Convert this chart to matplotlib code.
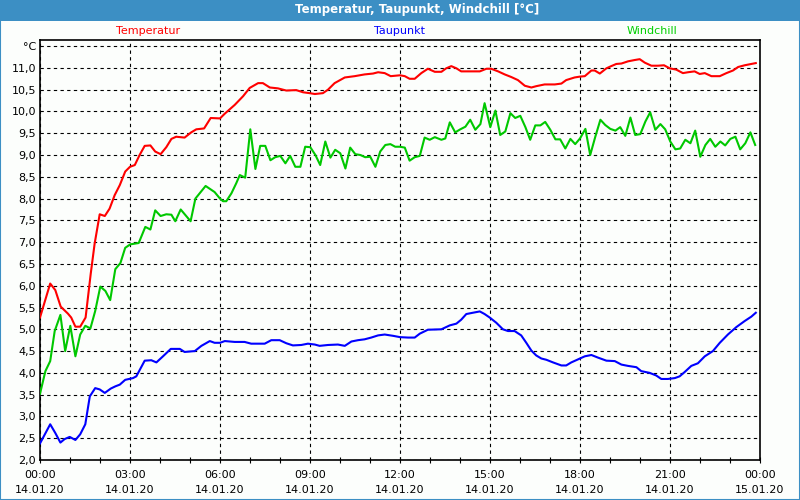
import matplotlib
matplotlib.use("Agg")
import matplotlib.pyplot as plt
from matplotlib.patches import Rectangle
from matplotlib.ticker import FixedLocator, MultipleLocator

# values, time in hours since 14.01.20 00:00
temp_h = [0, 0.34, 0.51, 0.69, 0.93, 1.04, 1.18, 1.34, 1.52, 1.69, 1.82, 1.99, 2.16, 2.32, 2.49,
          2.66, 2.84, 3.0, 3.16, 3.32, 3.49, 3.68, 3.84, 4.02, 4.21, 4.38, 4.54, 4.82, 5.04, 5.21,
          5.47, 5.69, 6.0, 6.16, 6.49, 6.77, 6.99, 7.27, 7.43, 7.66, 7.93, 8.21, 8.54, 8.77, 8.99,
          9.16, 9.43, 9.6, 9.82, 10.16, 10.49, 10.82, 11.1, 11.27, 11.49, 11.69, 12.0, 12.16, 12.32,
          12.49, 12.71, 12.93, 13.16, 13.38, 13.54, 13.71, 13.88, 14.04, 14.32, 14.66, 14.88, 15.04,
          15.27, 15.49, 15.71, 15.93, 16.16, 16.38, 16.54, 16.82, 17.16, 17.38, 17.54, 17.82, 18.0,
          18.16, 18.38, 18.49, 18.66, 18.88, 19.04, 19.21, 19.38, 19.6, 19.82, 19.99, 20.16, 20.38,
          20.6, 20.8, 20.99, 21.21, 21.43, 21.6, 21.82, 21.99, 22.16, 22.38, 22.66, 22.88, 23.1,
          23.27, 23.49, 23.71, 23.86]
temp = [5.27, 6.05, 5.9, 5.52, 5.36, 5.27, 5.06, 5.06, 5.27, 6.27, 6.96, 7.64, 7.6, 7.77, 8.08,
        8.31, 8.62, 8.73, 8.77, 9.0, 9.21, 9.22, 9.08, 9.02, 9.18, 9.37, 9.42, 9.4, 9.52, 9.59,
        9.61, 9.85, 9.84, 9.95, 10.15, 10.35, 10.54, 10.65, 10.65, 10.55, 10.53, 10.48, 10.49, 10.44, 10.42,
        10.4, 10.42, 10.5, 10.65, 10.78, 10.81, 10.85, 10.87, 10.9, 10.88, 10.81, 10.83, 10.81, 10.75,
        10.75, 10.88, 10.98, 10.91, 10.91, 10.99, 11.04, 10.99, 10.92, 10.92, 10.92, 10.98, 10.98,
        10.92, 10.85, 10.79, 10.72, 10.59, 10.55, 10.58, 10.62, 10.62, 10.64, 10.72, 10.78, 10.8,
        10.81, 10.94, 10.94, 10.87, 10.99, 11.04, 11.09, 11.1, 11.15, 11.18, 11.2, 11.12, 11.05,
        11.05, 11.06, 10.99, 10.96, 10.88, 10.9, 10.92, 10.86, 10.88, 10.81, 10.81, 10.88, 10.94,
        11.02, 11.06, 11.09, 11.11]

dew_h = [0, 0.34, 0.51, 0.68, 0.82, 0.99, 1.18, 1.34, 1.51, 1.66, 1.84, 1.99, 2.16, 2.36, 2.51,
         2.66, 2.84, 3.1, 3.21, 3.49, 3.71, 3.88, 4.1, 4.36, 4.66, 4.82, 5.16, 5.38, 5.66, 5.82,
         6.0, 6.16, 6.49, 6.82, 7.04, 7.49, 7.71, 7.99, 8.21, 8.43, 8.71, 8.93, 9.16, 9.32, 9.6,
         9.93, 10.16, 10.38, 10.6, 10.82, 11.04, 11.27, 11.49, 11.77, 12.0, 12.27, 12.49, 12.66,
         12.93, 13.38, 13.66, 13.88, 14.04, 14.21, 14.43, 14.66, 14.82, 14.99, 15.21, 15.43, 15.6,
         15.82, 16.04, 16.21, 16.38, 16.54, 16.71, 16.88, 17.1, 17.38, 17.54, 17.71, 18.0, 18.16,
         18.38, 18.6, 18.88, 19.16, 19.38, 19.6, 19.88, 20.04, 20.32, 20.54, 20.71, 20.93, 21.16,
         21.32, 21.49, 21.71, 21.93, 22.16, 22.43, 22.66, 22.93, 23.21, 23.49, 23.71, 23.86]
dew = [2.38, 2.82, 2.62, 2.4, 2.48, 2.53, 2.46, 2.59, 2.82, 3.46, 3.65, 3.62, 3.54, 3.64, 3.69,
       3.73, 3.84, 3.88, 3.92, 4.28, 4.29, 4.24, 4.38, 4.55, 4.55, 4.48, 4.5, 4.62, 4.73, 4.69,
       4.69, 4.73, 4.71, 4.71, 4.67, 4.67, 4.75, 4.75, 4.68, 4.63, 4.64, 4.67, 4.65, 4.62, 4.64,
       4.65, 4.62, 4.72, 4.75, 4.77, 4.81, 4.86, 4.88, 4.85, 4.82, 4.81, 4.81, 4.9,
       4.99, 5.0, 5.09, 5.13, 5.22, 5.35, 5.38, 5.41, 5.35, 5.27, 5.15, 5.0, 4.96,
       4.96, 4.86, 4.69, 4.51, 4.4, 4.33, 4.3, 4.24, 4.17, 4.17, 4.24, 4.33, 4.38,
       4.41, 4.35, 4.28, 4.27, 4.19, 4.16, 4.13, 4.04, 4.0, 3.94, 3.86, 3.86, 3.88,
       3.92, 4.02, 4.16, 4.22, 4.38, 4.5, 4.69, 4.88, 5.05, 5.19, 5.29, 5.38]

wind_h = [0, 0.18, 0.34, 0.49, 0.68, 0.84, 1.01, 1.18, 1.34, 1.51, 1.68, 1.84, 2.01, 2.18, 2.34,
          2.51, 2.68, 2.84, 3.01, 3.29, 3.51, 3.68, 3.84, 4.02, 4.21, 4.38, 4.51, 4.69, 5.02, 5.18,
          5.52, 5.82, 6.0, 6.1, 6.21, 6.38, 6.54, 6.66, 6.84, 7.01, 7.18, 7.34, 7.51, 7.68, 7.84,
          8.01, 8.18, 8.34, 8.51, 8.68, 8.84, 9.01, 9.18, 9.34, 9.51, 9.68, 9.84, 10.01, 10.18,
          10.34, 10.51, 10.68, 10.84, 11.01, 11.18, 11.34, 11.51, 11.68, 11.84, 12.0, 12.16, 12.32,
          12.49, 12.66, 12.82, 12.99, 13.16, 13.38, 13.51, 13.66, 13.84, 14.01, 14.18, 14.34, 14.51,
          14.68, 14.82, 15.01, 15.18, 15.34, 15.51, 15.68, 15.84, 16.01, 16.18, 16.34, 16.51, 16.68,
          16.84, 17.01, 17.18, 17.34, 17.51, 17.68, 17.84, 18.0, 18.18, 18.34, 18.51, 18.68, 18.84,
          19.01, 19.18, 19.34, 19.51, 19.68, 19.84, 20.01, 20.18, 20.34, 20.51, 20.68, 20.84, 21.01,
          21.18, 21.34, 21.51, 21.68, 21.84, 22.01, 22.18, 22.34, 22.51, 22.68, 22.84, 23.01, 23.18,
          23.34, 23.51, 23.68, 23.84]
wind = [3.52, 4.04, 4.27, 4.96, 5.33, 4.5, 5.08, 4.38, 4.88, 5.08, 5.02, 5.42, 5.98, 5.88, 5.67,
        6.38, 6.52, 6.87, 6.95, 6.98, 7.35, 7.29, 7.73, 7.6, 7.64, 7.63, 7.48, 7.75, 7.48, 8.0,
        8.29, 8.15, 8.0, 7.94, 7.94, 8.12, 8.35, 8.54, 8.48, 9.59, 8.68, 9.21, 9.21, 8.88, 8.95,
        8.98, 8.81, 8.98, 8.73, 8.73, 9.19, 9.18, 9.0, 8.77, 9.31, 8.94, 9.12, 9.04, 8.69,
        9.17, 9.02, 9.0, 8.95, 8.96, 8.73, 9.08, 9.23, 9.25, 9.19, 9.19, 9.17, 8.87,
        8.95, 8.98, 9.4, 9.35, 9.41, 9.35, 9.38, 9.75, 9.52, 9.59, 9.65, 9.81, 9.58,
        9.71, 10.19, 9.64, 10.02, 9.46, 9.54, 9.96, 9.85, 9.9, 9.64, 9.35, 9.68, 9.68,
        9.76, 9.58, 9.36, 9.36, 9.15, 9.37, 9.25, 9.38, 9.6, 9.0, 9.42, 9.81, 9.69,
        9.6, 9.56, 9.64, 9.44, 9.86, 9.46, 9.48, 9.77, 9.98, 9.58, 9.71, 9.59, 9.31,
        9.13, 9.15, 9.35, 9.27, 9.56, 8.96, 9.23, 9.37, 9.19, 9.31, 9.22, 9.37, 9.42,
        9.13, 9.27, 9.52, 9.23]

x_ticks = [0, 3, 6, 9, 12, 15, 18, 21, 24]
x_labels = ["00:00\n14.01.20", "03:00\n14.01.20", "06:00\n14.01.20", "09:00\n14.01.20",
            "12:00\n14.01.20", "15:00\n14.01.20", "18:00\n14.01.20", "21:00\n14.01.20",
            "00:00\n15.01.20"]
y_ticks = [2.0, 2.5, 3.0, 3.5, 4.0, 4.5, 5.0, 5.5, 6.0, 6.5, 7.0, 7.5, 8.0, 8.5, 9.0, 9.5,
           10.0, 10.5, 11.0, 11.5]
y_labels = ["2,0", "2,5", "3,0", "3,5", "4,0", "4,5", "5,0", "5,5", "6,0", "6,5", "7,0", "7,5",
            "8,0", "8,5", "9,0", "9,5", "10,0", "10,5", "11,0", "°C"]

bg = "#fcfefc"
bar = "#3c8fc4"
fig = plt.figure(figsize=(8, 5), dpi=100, facecolor=bg)

# window title bar and frame
fig.patches.append(Rectangle((0, 479 / 500), 1, 21 / 500, transform=fig.transFigure,
                             facecolor=bar, edgecolor="none", zorder=0))
fig.patches.append(Rectangle((0.0006, 0.001), 0.9988, 0.998, transform=fig.transFigure,
                             facecolor="none", edgecolor=bar, lw=1.5, zorder=0))
fig.text(417 / 800, 1 - 10 / 500, "Temperatur, Taupunkt, Windchill [°C]", color="white",
         fontsize=8.5, fontweight="bold", ha="center", va="center")

fig.text(148 / 800, 1 - 31 / 500, "Temperatur", color="#ff0000", fontsize=8, ha="center", va="center")
fig.text(400 / 800, 1 - 31 / 500, "Taupunkt", color="#0000ff", fontsize=8, ha="center", va="center")
fig.text(652 / 800, 1 - 31 / 500, "Windchill", color="#00d000", fontsize=8, ha="center", va="center")

ax = fig.add_axes([40 / 800, 40 / 500, 720 / 800, 420 / 500])
ax.set_facecolor(bg)
ax.plot(wind_h, wind, color="#00c800", lw=1.5, zorder=3)
ax.plot(dew_h, dew, color="#0000ff", lw=1.5, zorder=3)
ax.plot(temp_h, temp, color="#ff0000", lw=1.5, zorder=3)

ax.set_xlim(0, 24)
ax.set_ylim(2.0, 11.64)
ax.xaxis.set_major_locator(FixedLocator(x_ticks))
ax.xaxis.set_minor_locator(MultipleLocator(1))
ax.set_xticklabels(x_labels, fontsize=8, linespacing=1.6)
ax.set_yticks(y_ticks)
ax.set_yticklabels(y_labels, fontsize=8)
ax.tick_params(axis="y", length=0, pad=3)
ax.tick_params(axis="x", which="both", direction="inout", length=4, width=0.8, pad=5)
ax.grid(True, which="major", color="black", linestyle=(0, (3, 3)), lw=0.8)
for s in ax.spines.values():
    s.set_linewidth(1.2)

fig.savefig("out.png", dpi=100, facecolor=bg)
